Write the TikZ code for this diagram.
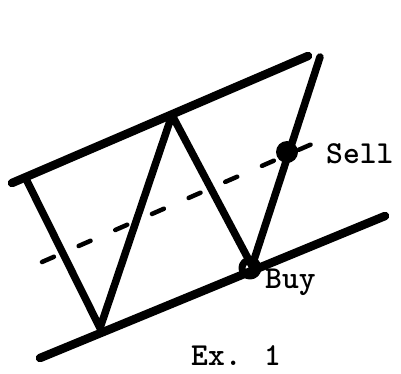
\documentclass[tikz,border=0pt]{standalone}
\usepackage{fontspec}
\usetikzlibrary{positioning}

\begin{document}
\begin{tikzpicture}[x=1pt, y=-1pt, line cap=round, line join=round,
    trend/.style={line width=8.5pt},
    swing/.style={line width=7.5pt},
    midline/.style={line width=4.5pt, dash pattern=on 13pt off 27pt},
    lbl/.style={font=\ttfamily\bfseries\fontsize{32}{32}\selectfont, inner sep=0pt}]
    \useasboundingbox (0,0) rectangle (401,373);
    % channel lines
    \coordinate (upA) at (12,183);
    \coordinate (upB) at (308,56);
    \coordinate (loA) at (40,358);
    \coordinate (loB) at (385,216);
    \coordinate (midA) at (42,262);
    \coordinate (midB) at (312,144);
    % price swings
    \coordinate (p0) at (27,181);
    \coordinate (p1) at (100,328);
    \coordinate (p2) at (172,115);
    \coordinate (p3) at (252,266);
    \coordinate (p4) at (320,57);
    \draw[trend] (upA) -- (upB);
    \draw[trend] (loA) -- (loB);
    \draw[midline] (midA) -- (midB);
    \draw[swing] (p0) -- (p1) -- (p2) -- (p3) -- (p4);
    \node[circle, fill, minimum size=22pt, inner sep=0pt] (sell) at (287,152) {};
    \node[circle, draw, line width=7pt, minimum size=16pt, inner sep=0pt] (buy) at (250,268) {};
    \node[lbl, anchor=base west] (selltxt) at (326,163) {Sell};
    \node[lbl, anchor=base west] (buytxt) at (265,288) {Buy};
    \node[lbl, anchor=base] (extxt) at (236,365) {Ex. 1};
\end{tikzpicture}
\end{document}
